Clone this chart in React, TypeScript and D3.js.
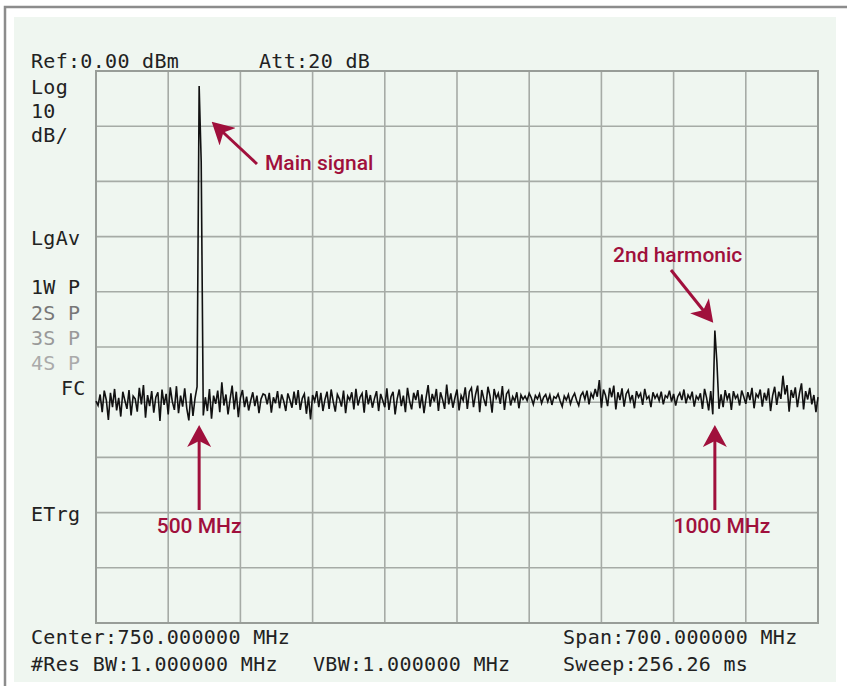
import React from 'react';
import * as d3 from 'd3';

// sweep: 400 - 1100 MHz, 351 points, trace in dB above the noise floor
const freqStart = 400;
const freqStop = 1100;
const refLevel = 0;
const dbPerDiv = 10;
const noiseFloorDbm = -60;

const traceDb = [
  0.2, -0.6, 1.4, -1.8, 2.1, 0.4, -3.2, 1.7, -0.9, 2.4, -1.5, 0.8, -2.6, 1.9, 0.3, -1.2, 2.2, -2.4, 1.1, 0.6,
  -1.7, 2.6, -0.4, 3.1, -2.8, 1.3, -0.7, 2.0, -1.9, 0.9, 1.8, -3.4, 2.3, -0.5, 1.5, -2.2, 2.7, 0.1, -1.4, 2.9,
  -2.0, 1.2, -0.8, 2.5, -1.1, -3.3, 1.6, -2.5, 0.7, 2.8,
  57.3, 43.5, -2.4,
  0.9, -1.6, 2.4, -3.0, 1.2, -0.3, 2.1, -1.8, 3.6, -0.6, 1.4, -2.2, 0.5, 3.0, -1.3, 1.9, -2.7, 0.8, 2.2, -0.9,
  1.0, -1.5, 0.3, 1.8, -0.7, 1.2, -2.0, 0.6, 1.5, 1.3, -0.4, 1.7, -1.9, 0.9, -0.2, 2.0, -1.1, 1.4, 0.2, -1.6,
  1.6, 0.4, -1.0, 1.9, -0.5, 2.2, -1.4, 0.7, 1.5, -2.1, 1.0, -3.1, 1.3, 0.2, 2.0, -0.9, 1.7, -1.6, 0.5, 1.9,
  -1.2, 2.3, 0.1, -1.7, 1.4, 0.6, -0.8, 2.1, -2.0, 1.1, 0.4, 1.8, -1.3, 2.4, -0.6, 0.9, 1.6, -1.9, 2.2, -0.4,
  1.3, -1.0, 0.7, 2.0, -1.6, 1.5, 0.3, -0.9, 2.5, -1.4, 1.0, 1.9, -2.2, 0.6, 2.3, -0.7, 1.2, -1.8, 2.6, 0.2,
  -1.3, 1.7, 0.4, 2.2, -1.1, 1.4, -2.0, 0.8, 3.1, -0.8, 1.5, 0.1, 2.4, -1.6, 1.8, 0.5, -1.2, 3.2, -0.4, 1.6,
  -1.0, 0.8, 2.3, -1.5, 1.2, 0.3, 2.7, -1.2, 1.9, 2.6, -0.9, 1.4, 3.0, -1.8, 2.2, 0.6, -0.7, 2.8, 1.1, -1.9,
  2.4, 0.7, 1.6, -0.3, 2.9, -1.4, 1.5, 2.1, -0.6, 1.0, 0.2, 1.8, -1.1, 1.3, 0.5, 1.1, 0.3, 1.6, 0.8, -0.4,
  1.2, 0.6, 1.5, -0.2, 0.9, 1.4, 0.1, 1.3, -0.5, 1.0, 0.7, 1.5, 0.2, -0.8, 1.1, 0.4, 1.4, -0.3, 0.9, 1.6,
  0.3, -0.6, 1.2, 1.8, 0.5, 2.1, -0.4, 1.6, 0.8, 2.4, 1.0, 4.0, -1.0, 2.3, 1.2, -0.7, 2.6, 0.9, 3.0, -1.3,
  1.8, 0.4, 2.5, -0.8, 1.5, 2.2, 0.2, 1.3, -1.1, 2.0, 0.9, 1.6, -0.5, 2.4, 0.6, 1.1, -0.9, 1.8, 0.7, 1.4,
  0.3, 1.9, -0.4, 1.2, 0.8, 2.1, 0.1, 1.5, -0.6, 1.0, 1.7, 0.4, 2.3, -0.2, 1.3, 0.6, 1.9, -0.8, 1.1, 0.5,
  1.6, -1.2, 2.4, 0.8, -1.5, 2.0, -2.2,
  13.0, 7.2, -1.2,
  1.4, -0.9, 2.2, 0.5, 1.6, -1.4, 2.0, 0.7, 1.3, -0.6, 2.1, 1.0, -0.3, 1.8, 0.4, 2.6, -1.1, 1.5, 0.9, 2.3,
  -0.8, 1.7, 0.3, 2.5, -1.6, 1.2, 2.8, -0.5, 1.9, 0.6, 4.8, 1.4, 3.1, -1.7, 2.2, 0.8, 2.7, -0.9, 1.6, 3.4,
  -1.3, 2.0, 0.5, 2.6, -0.4, 1.3, -1.8, 0.9,
];

const markerFreqs = [500, 1000];
const markerLabels = ['500 MHz', '1000 MHz'];

const headerLeft = 'Ref:0.00 dBm';
const headerMid = 'Att:20 dB';
const footerLines = ['Center:750.000000 MHz', '#Res BW:1.000000 MHz'];
const footerMid = 'VBW:1.000000 MHz';
const footerRight = ['Span:700.000000 MHz', 'Sweep:256.26 ms'];

const W = 847;
const H = 686;
const plot = { left: 96, right: 818, top: 71, bottom: 623 };
const red = '#a0103c';
const mono = { fontFamily: '"DejaVu Sans Mono", monospace', fontSize: 20, letterSpacing: 0.3 };
const annot = { fontFamily: 'Roboto, "Liberation Sans", sans-serif', fontSize: 21, fontWeight: 500, fill: red };

const App = () => {
  const x = d3.scaleLinear().domain([freqStart, freqStop]).range([plot.left, plot.right]);
  const y = d3
    .scaleLinear()
    .domain([refLevel - dbPerDiv * 10, refLevel])
    .range([plot.bottom, plot.top]);

  const step = (freqStop - freqStart) / (traceDb.length - 1);
  const trace = traceDb.map((v, i) => ({ f: freqStart + i * step, dbm: noiseFloorDbm + v }));

  const line = d3
    .line<{ f: number; dbm: number }>()
    .x((d) => x(d.f))
    .y((d) => y(d.dbm));

  const xGrid = d3.range(0, 11).map((k) => freqStart + (k * (freqStop - freqStart)) / 10);
  const yGrid = d3.range(0, 11).map((k) => refLevel - k * dbPerDiv);

  return (
    <svg width={W} height={H} style={{ position: 'absolute', left: 0, top: 0, background: '#fff' }}>
      <defs>
        <marker
          id="ah"
          viewBox="0 0 22 24"
          refX={12}
          refY={12}
          markerWidth={22}
          markerHeight={24}
          markerUnits="userSpaceOnUse"
          orient="auto"
        >
          <path d="M0,0 L22,12 L0,24 L6,12 Z" fill={red} />
        </marker>
      </defs>

      {/* outer frame, cut off right and bottom */}
      <path d={`M5,${H} L5,7 L${W},7`} fill="none" stroke="#8c8c8c" strokeWidth={2.5} />
      <rect x={14} y={17} width={822} height={665} fill="#eff6f0" />

      {/* grid */}
      <g stroke="#a6aba6" strokeWidth={1.6}>
        {xGrid.map((f) => (
          <line key={'x' + f} x1={x(f)} x2={x(f)} y1={plot.top} y2={plot.bottom} />
        ))}
        {yGrid.map((v) => (
          <line key={'y' + v} x1={plot.left} x2={plot.right} y1={y(v)} y2={y(v)} />
        ))}
      </g>
      <rect
        x={plot.left}
        y={plot.top}
        width={plot.right - plot.left}
        height={plot.bottom - plot.top}
        fill="none"
        stroke="#989d98"
        strokeWidth={2}
      />

      {/* trace */}
      <path d={line(trace) || ''} fill="none" stroke="#111" strokeWidth={1.6} strokeLinejoin="miter" />

      {/* instrument text */}
      <g style={mono} fill="#222">
        <text x={31} y={68}>{headerLeft}</text>
        <text x={259} y={68}>{headerMid}</text>
        <text x={31} y={94}>Log</text>
        <text x={31} y={118}>10</text>
        <text x={31} y={142}>dB/</text>
        <text x={31} y={245}>LgAv</text>
        <text x={31} y={294}>1W P</text>
        <text x={31} y={320} fill="#777">2S P</text>
        <text x={31} y={345} fill="#999">3S P</text>
        <text x={31} y={370} fill="#aaa">4S P</text>
        <text x={61} y={395}>FC</text>
        <text x={31} y={521}>ETrg</text>
        <text x={31} y={644}>{footerLines[0]}</text>
        <text x={31} y={671}>{footerLines[1]}</text>
        <text x={313} y={671}>{footerMid}</text>
        <text x={563} y={644}>{footerRight[0]}</text>
        <text x={563} y={671}>{footerRight[1]}</text>
      </g>

      {/* annotations */}
      <g stroke={red} strokeWidth={3} fill="none">
        <line x1={257} y1={164} x2={219} y2={128.5} markerEnd="url(#ah)" />
        <line x1={671} y1={270} x2={707} y2={315} markerEnd="url(#ah)" />
        {markerFreqs.map((f) => (
          <line key={f} x1={x(f)} x2={x(f)} y1={510} y2={435} markerEnd="url(#ah)" />
        ))}
      </g>
      <g style={annot}>
        <text x={265} y={170}>Main signal</text>
        <text x={613} y={262}>2nd harmonic</text>
        {markerFreqs.map((f, i) => (
          <text key={f} x={x(f) + (i === 0 ? 0 : 7)} y={533} textAnchor="middle">
            {markerLabels[i]}
          </text>
        ))}
      </g>
    </svg>
  );
};

export default App;
